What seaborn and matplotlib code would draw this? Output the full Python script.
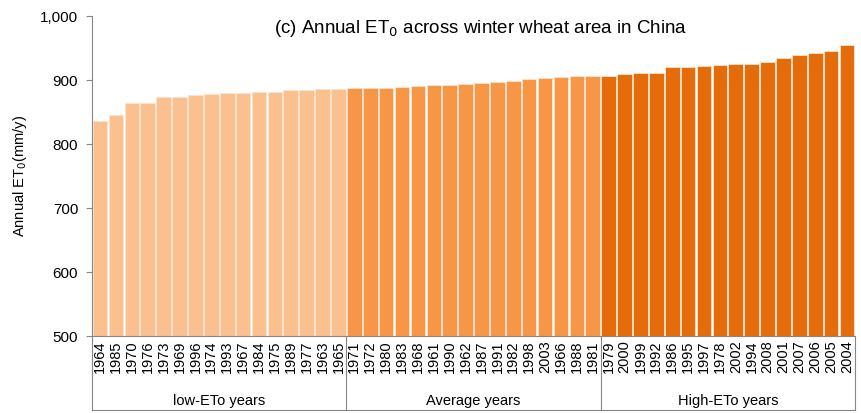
import pandas as pd
import numpy as np
import matplotlib
matplotlib.use("Agg")
import matplotlib.pyplot as plt
import seaborn as sns

low_years = ["1964", "1985", "1970", "1976", "1973", "1969", "1996", "1974",
             "1993", "1967", "1984", "1975", "1989", "1977", "1963", "1965"]
low_et0 = [836, 845, 865, 865, 873, 873, 877, 879,
           880, 880, 881, 881, 884, 884, 886, 886]

avg_years = ["1971", "1972", "1980", "1983", "1968", "1961", "1990", "1962",
             "1987", "1991", "1982", "1998", "2003", "1966", "1988", "1981"]
avg_et0 = [887, 887, 887, 889, 891, 893, 893, 894,
           895, 897, 898, 902, 903, 905, 906, 907]

high_years = ["1979", "2000", "1999", "1992", "1986", "1995", "1997", "1978",
              "2002", "1994", "2008", "2001", "2007", "2006", "2005", "2004"]
high_et0 = [907, 909, 911, 911, 921, 921, 922, 924,
            925, 925, 929, 935, 939, 943, 945, 955]

group_names = ["low-ETo years", "Average years", "High-ETo years"]
group_colors = ["#FAC090", "#F79646", "#E46C0A"]

df = pd.DataFrame({
    "year": low_years + avg_years + high_years,
    "et0": low_et0 + avg_et0 + high_et0,
    "group": [group_names[0]] * len(low_years) + [group_names[1]] * len(avg_years)
             + [group_names[2]] * len(high_years),
})

plt.rcParams["font.family"] = ["Liberation Sans", "DejaVu Sans"]
fig, ax = plt.subplots(figsize=(8.61, 4.13), dpi=100)
fig.subplots_adjust(left=0.107, right=0.993, top=0.961, bottom=0.186)

sns.barplot(data=df, x="year", y="et0", hue="group", order=df["year"],
            palette=dict(zip(group_names, group_colors)), dodge=False,
            saturation=1, width=0.92, edgecolor="#FDE3CC", linewidth=0.6,
            legend=False, ax=ax)

ax.set_ylim(500, 1000)
ax.set_xlim(-0.5, len(df) - 0.5)
ax.set_yticks(range(500, 1001, 100))
ax.set_yticklabels([f"{v:,}" for v in range(500, 1001, 100)], fontsize=11)
ax.tick_params(axis="x", labelrotation=90, labelsize=10.5, length=0, pad=3)
ax.tick_params(axis="y", length=4, color="#868686", pad=6)
ax.set_xlabel("")
ax.set_ylabel("Annual ET$_0$(mm/y)", fontsize=10.5, labelpad=8)
for s in ["top", "right"]:
    ax.spines[s].set_visible(False)
for s in ["left", "bottom"]:
    ax.spines[s].set_color("#868686")

ax.text(0.51, 0.995, "(c) Annual ET$_0$ across winter wheat area in China",
        transform=ax.transAxes, ha="center", va="top", fontsize=13.5)

# multi-level category axis
trans = ax.get_xaxis_transform()
bottom = -0.232
start = -0.5
for name, years in zip(group_names, [low_years, avg_years, high_years]):
    end = start + len(years)
    ax.plot([start, start], [0, bottom], color="#868686", lw=0.8,
            transform=trans, clip_on=False)
    ax.text((start + end) / 2, -0.203, name, transform=trans,
            ha="center", va="center", fontsize=10.5)
    start = end
ax.plot([start, start], [0, bottom], color="#868686", lw=0.8,
        transform=trans, clip_on=False)
ax.plot([-0.5, start], [bottom, bottom], color="#868686", lw=0.8,
        transform=trans, clip_on=False)

fig.savefig("out.png", dpi=100)
